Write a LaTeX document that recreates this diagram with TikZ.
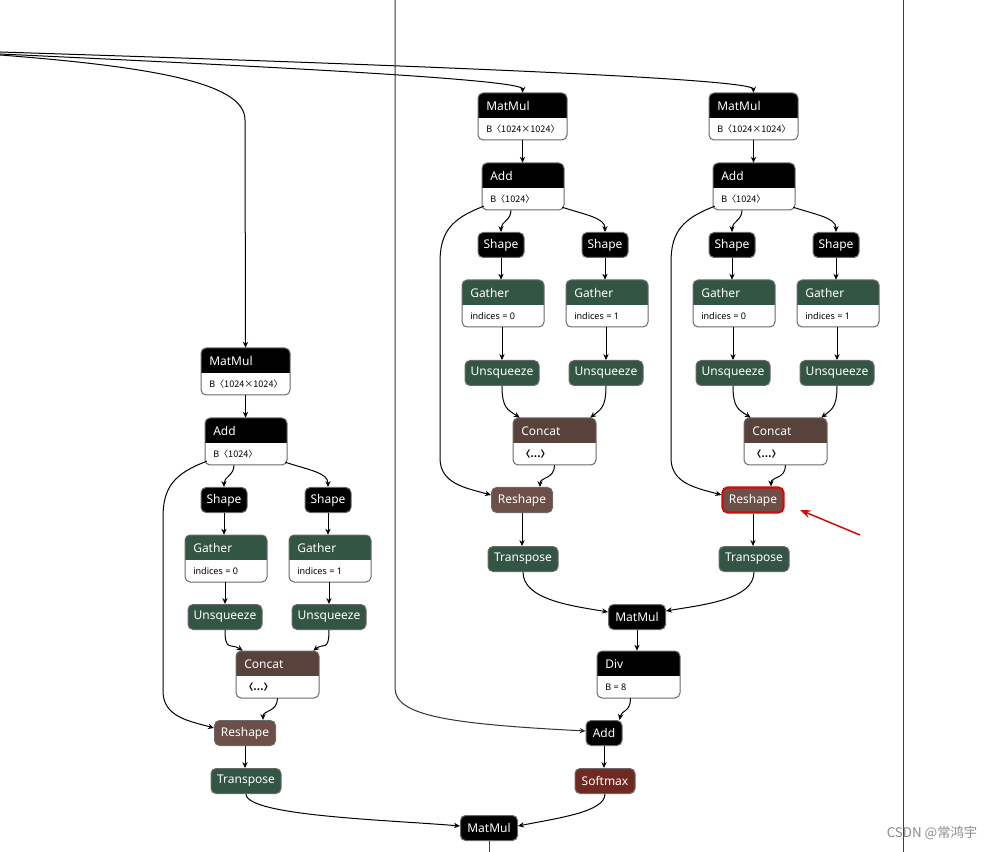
\documentclass[tikz,border=0pt]{standalone}
\usepackage{fontspec}
\setmainfont{Noto Sans}
\newfontfamily\cjk{Noto Sans CJK SC}
\usetikzlibrary{arrows.meta,fit,calc}
\definecolor{cTrans}{RGB}{51,85,68}
\definecolor{cShape}{RGB}{108,79,71}
\definecolor{cTensor}{RGB}{89,66,59}
\definecolor{cAct}{RGB}{112,41,33}
\definecolor{cBorder}{RGB}{105,105,105}
\definecolor{cRed}{RGB}{210,10,10}
\tikzset{
 op/.style={draw=cBorder, line width=0.75pt, rounded corners=3.8pt, text=white,
   font=\fontsize{9}{10}\selectfont, minimum height=25*0.75pt, inner sep=0pt},
 edge/.style={draw=black, line width=0.75pt, -{Stealth[length=4.5pt,width=4pt]}},
 plainline/.style={draw=black!75, line width=0.75pt},
 hdr/.style={text=white, font=\fontsize{9}{10}\selectfont, anchor=west, inner sep=0pt},
 attr/.style={text=black, font=\fontsize{6.8}{8}\selectfont, anchor=west, inner sep=0pt},
}
% two-part node: name, x1, y1, x2, y2, colour, title, attribute
\newcommand{\twonode}[8]{%
 \begin{scope}
  \clip[rounded corners=3.8pt] ({#2},{#3}) rectangle ({#4},{#5});
  \fill[white] ({#2},{#3}) rectangle ({#4},{#5});
  \fill[#6] ({#2},{#3}) rectangle ({#4},{#3+25});
 \end{scope}
 \draw[draw=cBorder, line width=0.75pt, rounded corners=3.8pt] ({#2},{#3}) rectangle ({#4},{#5});
 \node[hdr] at ({#2+8},{#3+13}) {#7};
 \node[attr] at ({#2+8},{#3+36}) {#8};
 \node[fit={({#2},{#3}) ({#4},{#5})}, inner sep=0pt] (#1) {};
}
% single node: name, cx, cy, width, colour, text
\newcommand{\onode}[6]{%
 \node[op, fill=#5, minimum width={#4*0.75pt}] (#1) at ({#2},{#3}) {#6};
}
% one attention branch: prefix, dx, dy(top), dy(unsqueeze), dy(concat/reshape), dy(transpose), reshape style
\newcommand{\branch}[7]{%
 \twonode{#1mm}{478+#2}{93+#3}{567+#2}{140+#3}{black}{MatMul}{\textbf{B}\cjk{〈}1024×1024\cjk{〉}}
 \twonode{#1ad}{482+#2}{163+#3}{564+#2}{210+#3}{black}{Add}{\textbf{B}\cjk{〈}1024\cjk{〉}}
 \onode{#1sl}{501+#2}{245+#3}{46}{black}{Shape}
 \onode{#1sr}{605+#2}{245+#3}{46}{black}{Shape}
 \twonode{#1gl}{462+#2}{280+#3}{544+#2}{327+#3}{cTrans}{Gather}{indices = 0}
 \twonode{#1gr}{566+#2}{280+#3}{648+#2}{327+#3}{cTrans}{Gather}{indices = 1}
 \onode{#1ul}{502+#2}{373+#4}{74}{cTrans}{Unsqueeze}
 \onode{#1ur}{606+#2}{373+#4}{74}{cTrans}{Unsqueeze}
 \twonode{#1cc}{513+#2}{418+#5}{596+#2}{465+#5}{cTensor}{Concat}{\textbf{\cjk{〈}…\cjk{〉}}}
 \node[op, fill=cShape, minimum width={61*0.75pt}, #7] (#1rs) at ({522+#2},{500+#5}) {Reshape};
 \onode{#1tr}{523+#2}{559+#6}{70}{cTrans}{Transpose}
 \draw[edge] (#1mm.south) -- (#1mm.south |- #1ad.north);
 \draw[edge] ($(#1ad.south)+(-12,0)$) .. controls +(0,10) and +(0,-10) .. (#1sl.north);
 \draw[edge] ($(#1ad.south east)+(-2,-3)$) .. controls +(25,8) and +(0,-14) .. (#1sr.north);
 \draw[edge] ($(#1ad.south west)+(2,-4)$) .. controls +(-32,12) and +(0,-30) .. ({440+#2},{262+#3})
   -- ({440+#2},{458+#5}) .. controls ({440+#2},{484+#5}) and ({466+#2},{488+#5}) .. ($(#1rs.west)+(0,-5)$);
 \draw[edge] (#1sl.south) -- (#1sl.south |- #1gl.north);
 \draw[edge] (#1sr.south) -- (#1sr.south |- #1gr.north);
 \draw[edge] (#1ul.south |- #1gl.south) -- (#1ul.north);
 \draw[edge] (#1ur.south |- #1gr.south) -- (#1ur.north);
 \draw[edge] (#1ul.south) .. controls +(0,22) and +(-12,-8) .. ($(#1cc.north west)+(7,0)$);
 \draw[edge] (#1ur.south) .. controls +(0,22) and +(10,-8) .. ($(#1cc.north east)+(-6,0)$);
 \draw[edge] (#1cc.south) .. controls +(0,14) and +(0,-10) .. ($(#1rs.north)+(18,0)$);
 \draw[edge] (#1rs.south) -- (#1rs.south |- #1tr.north);
}
\begin{document}
\begin{tikzpicture}[x=0.75pt, y=-0.75pt]
\fill[white] (0,0) rectangle (997,852);
\useasboundingbox (0,0) rectangle (997,852);

% long vertical connectors
\coordinate (topL) at (395,0);
\coordinate (topR) at (903,0);
\coordinate (botR) at (903,852);
\draw[plainline] (topR) -- (botR);

\branch{A}{(-277)}{255}{244}{233}{222}{}
\branch{B}{0}{0}{0}{0}{0}{}
\branch{C}{231}{0}{0}{0}{0}{draw=cRed, line width=1.6pt}

\onode{mmid}{637}{617}{57}{black}{MatMul}
\twonode{div}{597}{651}{680}{698}{black}{Div}{B = 8}
\onode{addt}{604}{733}{36}{black}{Add}
\onode{soft}{605}{781}{60}{cAct}{Softmax}
\onode{mbot}{489}{828}{57}{black}{MatMul}
\coordinate (outB) at (489,852);

% inputs from the left edge
\coordinate (in1) at (0,52);
\coordinate (in2) at (0,54);
\coordinate (in3) at (0,55);
\draw[edge] (in1) .. controls (500,68) and (753,80) .. (Cmm.north);
\draw[edge] (in2) .. controls (300,68) and (523,80) .. (Bmm.north);
\draw[edge] (in3) .. controls (170,68) and (245,86) .. (245,120) -- (Amm.north);

\draw[edge] (Btr.south) .. controls +(0,28) and +(-35,-6) .. ($(mmid.west)+(0,-5)$);
\draw[edge] (Ctr.south) .. controls +(0,28) and +(35,-6) .. ($(mmid.east)+(0,-6)$);
\draw[edge] (mmid.south) -- (mmid.south |- div.north);
\draw[edge] ($(div.south)+(-8,0)$) .. controls +(0,14) and +(2,-10) .. ($(addt.north east)+(-3,0)$);
\draw[edge, draw=black!80] (topL) -- (395,688) .. controls (395,716) and (450,724) .. ($(addt.west)+(0,-2)$);
\draw[edge] (addt.south) -- (addt.south |- soft.north);
\draw[edge] (soft.south) .. controls +(0,18) and +(40,-8) .. ($(mbot.east)+(0,-2)$);
\draw[edge] (Atr.south) .. controls +(0,22) and +(-70,-6) .. ($(mbot.west)+(0,-2)$);
\draw[plainline] (mbot.south) -- (outB);

% red pointer
\coordinate (ra1) at (860,535);
\coordinate (ra2) at (800,510);
\draw[cRed, line width=1.1pt, -{Stealth[length=8pt,width=6pt]}] (ra1) -- (ra2);

% watermark
\node[text=black!45, font=\cjk\fontsize{10}{11}\selectfont, inner sep=0pt] (wm) at (932,833) {CSDN @常鸿宇};
\end{tikzpicture}
\end{document}
